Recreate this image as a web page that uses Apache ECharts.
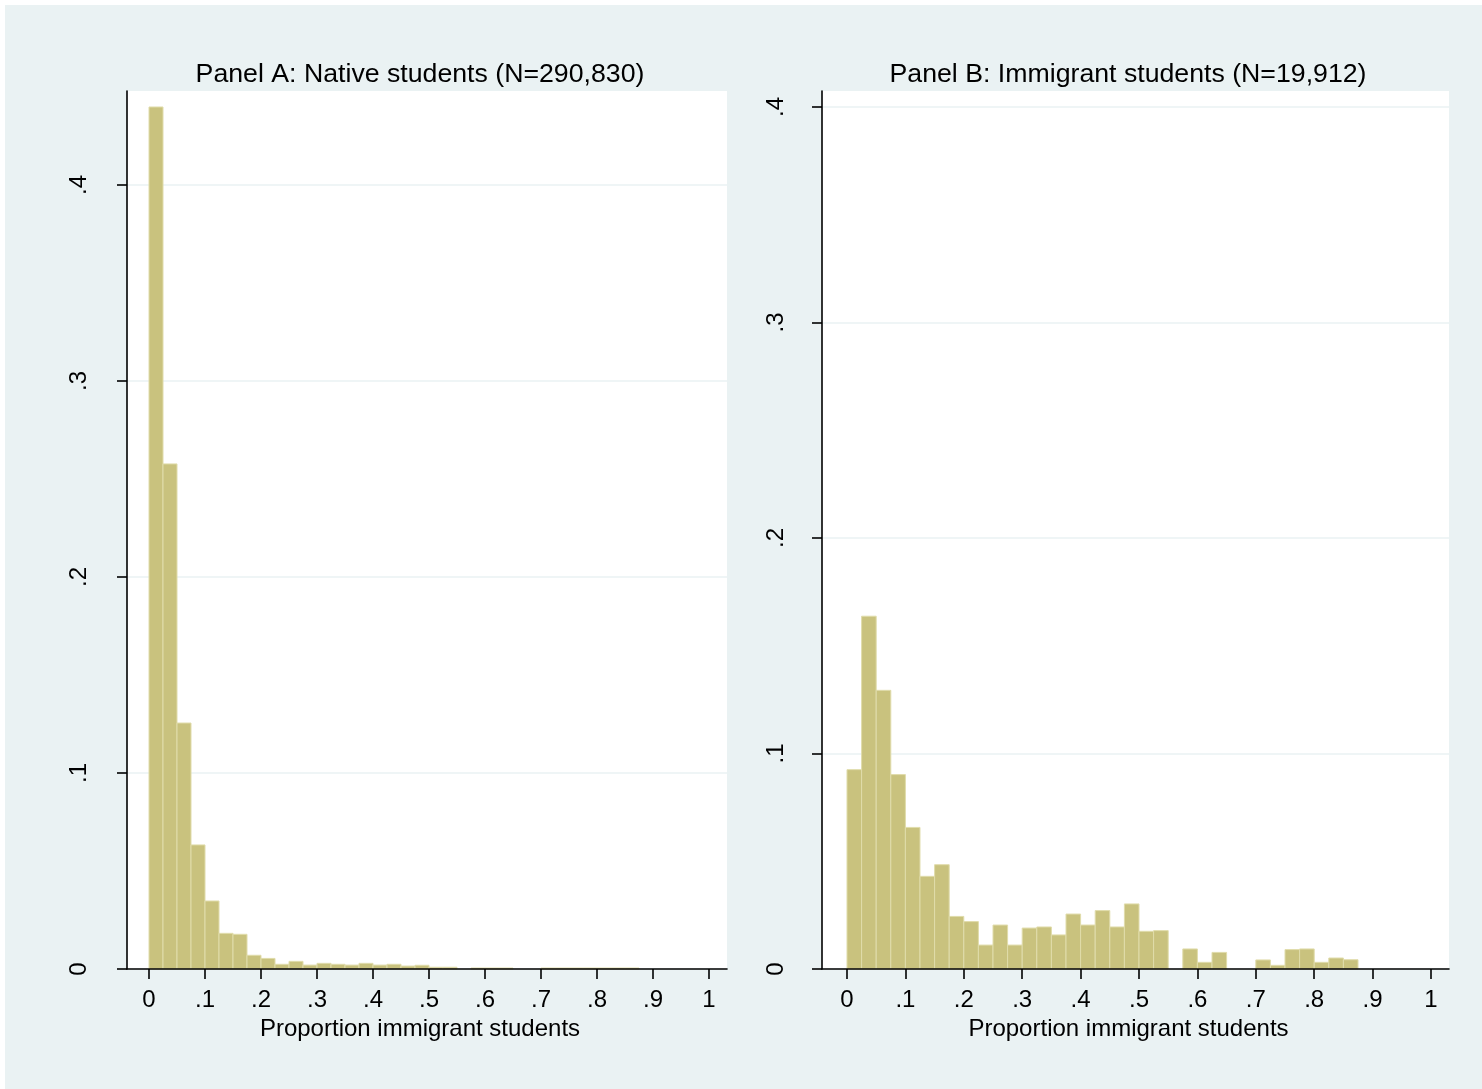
<!DOCTYPE html>
<html>
<head>
<meta charset="utf-8">
<script src="https://cdn.jsdelivr.net/npm/echarts@6/dist/echarts.min.js"></script>
<style>
  html, body { margin: 0; padding: 0; background: #ffffff; }
  #chart { position: absolute; left: 5px; top: 5px; width: 1477px; height: 1084px; }
</style>
</head>
<body>
<div id="chart"></div>
<script>
// ---- data (density per bin, bin width 0.025, bins start at 0) ----
const binWidth = 0.025;
const nativeDensity = [
  0.4398, 0.2577, 0.1255, 0.0633, 0.0347, 0.0182, 0.0177, 0.0070, 0.0054, 0.0024,
  0.0039, 0.0020, 0.0029, 0.0024, 0.0020, 0.0029, 0.0020, 0.0024, 0.0015, 0.0019,
  0.0009, 0.0009, 0, 0.0005, 0.0005, 0.0005, 0, 0, 0.0005, 0.0005,
  0.0005, 0.0005, 0.0005, 0.0005, 0.0005, 0, 0, 0, 0, 0
];
const immigrantDensity = [
  0.0925, 0.1637, 0.1293, 0.0902, 0.0657, 0.0430, 0.0484, 0.0244, 0.0220, 0.0111,
  0.0204, 0.0111, 0.0190, 0.0195, 0.0158, 0.0255, 0.0204, 0.0271, 0.0195, 0.0302,
  0.0175, 0.0178, 0, 0.0093, 0.0031, 0.0077, 0, 0, 0.0042, 0.0017,
  0.0090, 0.0093, 0.0031, 0.0051, 0.0043, 0, 0, 0, 0, 0
];
const xTicks = [0, 0.1, 0.2, 0.3, 0.4, 0.5, 0.6, 0.7, 0.8, 0.9, 1];
const xTickLabels = ['0', '.1', '.2', '.3', '.4', '.5', '.6', '.7', '.8', '.9', '1'];
const yTicks = [0, 0.1, 0.2, 0.3, 0.4];
const yTickLabels = ['0', '.1', '.2', '.3', '.4'];
const panelTitles = ['Panel A: Native students (N=290,830)', 'Panel B: Immigrant students (N=19,912)'];
const xAxisTitle = 'Proportion immigrant students';

// ---- styling ----
const FONT = '"Liberation Sans", Arial, Helvetica, sans-serif';
const BG = '#EAF2F3';
const BAR_FILL = '#C9C27E';
const BAR_EDGE = '#E0DCAB';

function labelFor(ticks, labels) {
  return function (v) {
    for (let i = 0; i < ticks.length; i++) {
      if (Math.abs(ticks[i] - v) < 1e-9) return labels[i];
    }
    return '';
  };
}

function toRows(arr) {
  return arr.map((v, i) => [i * binWidth, (i + 1) * binWidth, v]);
}

function renderBar(params, api) {
  const v = api.value(2);
  if (!v) return null;
  const p0 = api.coord([api.value(0), 0]);
  const p1 = api.coord([api.value(1), v]);
  return {
    type: 'rect',
    shape: { x: p0[0], y: p1[1], width: p1[0] - p0[0], height: p0[1] - p1[1] },
    style: { fill: BAR_FILL, stroke: BAR_EDGE, lineWidth: 1 }
  };
}

// panel geometry (relative to chart div)
const grids = [
  { left: 122, top: 86, width: 600, height: 878 },
  { left: 817, top: 86, width: 627, height: 878 }
];
const xRanges = [[-0.0393, 1.0321], [-0.0428, 1.0308]];
const yMax = [0.44796, 0.4074];
const yLabelMargin = [36, 34];
const titleX = [415, 1123];

function makeX(i) {
  return {
    type: 'value', gridIndex: i, min: xRanges[i][0], max: xRanges[i][1], z: 5,
    name: xAxisTitle, nameLocation: 'middle', nameGap: 37,
    nameTextStyle: { fontFamily: FONT, fontSize: 24, color: '#000', padding: [0, 14, 0, 0] },
    axisLine: { show: true, onZero: false, lineStyle: { color: '#000', width: 1.6 } },
    axisTick: { show: true, length: 10, lineStyle: { color: '#000', width: 1.6 }, customValues: xTicks },
    axisLabel: { fontFamily: FONT, fontSize: 24, color: '#000', margin: 19, customValues: xTicks,
      formatter: labelFor(xTicks, xTickLabels) },
    splitLine: { show: false }
  };
}
function makeY(i) {
  return {
    type: 'value', gridIndex: i, min: 0, max: yMax[i], z: 0,
    axisLine: { show: true, onZero: false, lineStyle: { color: '#000', width: 1.6 } },
    axisTick: { show: true, length: 10, lineStyle: { color: '#000', width: 1.6 }, customValues: yTicks },
    axisLabel: { fontFamily: FONT, fontSize: 24, color: '#000', margin: yLabelMargin[i], rotate: 90,
      customValues: yTicks, formatter: labelFor(yTicks, yTickLabels) },
    splitLine: { show: true, lineStyle: { color: BG, width: 1.5 } }
  };
}

const chart = echarts.init(document.getElementById('chart'), null, { renderer: 'canvas' });
chart.setOption({
  backgroundColor: BG,
  animation: false,
  grid: grids.map(g => Object.assign({ show: true, backgroundColor: '#ffffff', borderWidth: 0, containLabel: false }, g)),
  xAxis: [makeX(0), makeX(1)],
  yAxis: [makeY(0), makeY(1)],
  graphic: panelTitles.map((t, i) => ({
    type: 'text', x: titleX[i], y: 70,
    style: { text: t, font: '26.7px ' + FONT, fill: '#000', textAlign: 'center', textVerticalAlign: 'middle' }
  })),
  series: [
    { type: 'custom', name: 'Native', xAxisIndex: 0, yAxisIndex: 0, z: 2,
      renderItem: renderBar, encode: { x: [0, 1], y: 2 }, data: toRows(nativeDensity) },
    { type: 'custom', name: 'Immigrant', xAxisIndex: 1, yAxisIndex: 1, z: 2,
      renderItem: renderBar, encode: { x: [0, 1], y: 2 }, data: toRows(immigrantDensity) }
  ]
});
</script>
</body>
</html>
